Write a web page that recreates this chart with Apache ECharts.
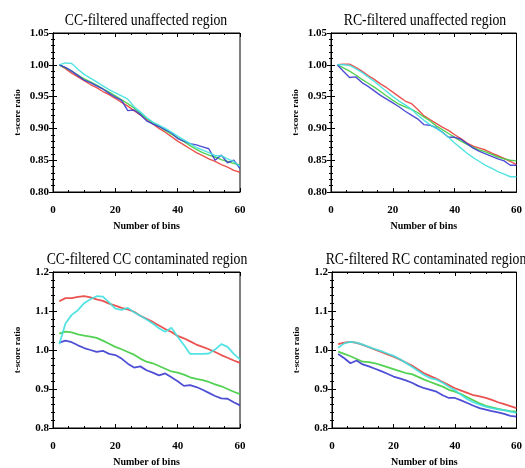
<!DOCTYPE html>
<html><head><meta charset="utf-8">
<script src="https://cdn.jsdelivr.net/npm/echarts@6/dist/echarts.min.js"></script>
<style>html,body{margin:0;padding:0;background:#fff}#c{width:525px;height:468px}</style>
</head><body><div id="c"></div>
<script>
var bins = [2,4,6,8,10,12,14,16,18,20,22,24,26,28,30,32,34,36,38,40,42,44,46,48,50,52,54,56,58,60];
var titles = ["CC-filtered unaffected region","RC-filtered unaffected region","CC-filtered CC contaminated region","RC-filtered RC contaminated region"];
var xTitle = "Number of bins";
var yTitle = "t-score ratio";

// Panel 1: CC-filtered unaffected region
var p1Red   = [1.000,0.994,0.987,0.981,0.975,0.969,0.964,0.958,0.953,0.947,0.941,0.935,0.928,0.921,0.914,0.907,0.900,0.894,0.887,0.880,0.874,0.868,0.862,0.857,0.852,0.848,0.843,0.839,0.834,0.831];
var p1Green = [1.000,0.995,0.990,0.984,0.978,0.973,0.968,0.962,0.957,0.951,0.945,0.939,0.932,0.924,0.916,0.909,0.903,0.897,0.891,0.885,0.879,0.873,0.867,0.862,0.858,0.855,0.851,0.848,0.845,0.842];
var p1Blue  = [1.000,0.996,0.990,0.983,0.976,0.972,0.967,0.962,0.955,0.949,0.944,0.928,0.929,0.922,0.912,0.907,0.903,0.898,0.893,0.884,0.880,0.876,0.874,0.871,0.868,0.850,0.858,0.846,0.850,0.837];
var p1Cyan  = [1.000,1.003,1.002,0.993,0.985,0.979,0.973,0.967,0.961,0.956,0.951,0.946,0.934,0.926,0.917,0.910,0.905,0.900,0.894,0.888,0.882,0.876,0.870,0.866,0.862,0.857,0.857,0.852,0.848,0.840];

// Panel 2: RC-filtered unaffected region
var p2Red   = [1.000,1.001,1.001,0.996,0.990,0.983,0.977,0.970,0.964,0.957,0.950,0.943,0.939,0.930,0.920,0.914,0.908,0.902,0.897,0.890,0.884,0.877,0.872,0.869,0.866,0.861,0.857,0.853,0.848,0.843];
var p2Green = [1.000,0.995,0.990,0.984,0.977,0.971,0.965,0.958,0.951,0.944,0.938,0.934,0.930,0.925,0.918,0.912,0.904,0.898,0.892,0.886,0.880,0.875,0.870,0.866,0.863,0.859,0.855,0.852,0.850,0.849];
var p2Blue  = [1.000,0.990,0.980,0.981,0.972,0.966,0.959,0.952,0.946,0.940,0.934,0.927,0.921,0.915,0.906,0.905,0.901,0.894,0.886,0.886,0.883,0.876,0.869,0.864,0.860,0.856,0.852,0.849,0.842,0.842];
var p2Cyan  = [1.000,1.000,0.999,0.994,0.988,0.981,0.974,0.966,0.958,0.950,0.943,0.937,0.930,0.921,0.913,0.906,0.900,0.894,0.886,0.877,0.869,0.861,0.854,0.848,0.842,0.837,0.832,0.828,0.824,0.824];

// Panel 3: CC-filtered CC contaminated region
var p3Red   = [1.125,1.133,1.133,1.136,1.138,1.135,1.130,1.126,1.119,1.114,1.108,1.104,1.098,1.088,1.080,1.072,1.063,1.054,1.046,1.036,1.030,1.022,1.014,1.008,1.002,0.995,0.987,0.980,0.973,0.967];
var p3Green = [1.042,1.047,1.045,1.040,1.037,1.034,1.031,1.024,1.016,1.008,1.002,0.995,0.988,0.978,0.970,0.966,0.959,0.952,0.945,0.942,0.937,0.930,0.926,0.923,0.918,0.912,0.907,0.900,0.893,0.887];
var p3Blue  = [1.019,1.024,1.020,1.012,1.005,1.000,0.995,0.998,0.990,0.987,0.978,0.965,0.955,0.958,0.948,0.942,0.935,0.940,0.930,0.920,0.908,0.910,0.905,0.898,0.890,0.882,0.876,0.875,0.866,0.858];
var p3Cyan  = [1.015,1.068,1.090,1.102,1.120,1.130,1.138,1.137,1.122,1.106,1.103,1.108,1.097,1.088,1.078,1.068,1.056,1.047,1.057,1.034,1.013,0.990,0.990,0.990,0.991,1.001,1.015,1.008,0.990,0.976];

// Panel 4: RC-filtered RC contaminated region
var p4Red   = [1.015,1.019,1.021,1.018,1.013,1.007,1.001,0.995,0.989,0.983,0.976,0.968,0.960,0.950,0.940,0.933,0.926,0.918,0.910,0.902,0.896,0.890,0.884,0.881,0.877,0.872,0.866,0.861,0.856,0.851];
var p4Green = [0.996,0.990,0.984,0.977,0.970,0.969,0.966,0.961,0.956,0.951,0.946,0.941,0.938,0.931,0.924,0.918,0.912,0.906,0.898,0.893,0.887,0.879,0.871,0.863,0.857,0.853,0.849,0.846,0.843,0.842];
var p4Blue  = [0.990,0.979,0.966,0.973,0.963,0.958,0.952,0.946,0.939,0.932,0.927,0.922,0.916,0.908,0.902,0.898,0.893,0.884,0.877,0.877,0.871,0.864,0.857,0.851,0.847,0.843,0.840,0.836,0.831,0.829];
var p4Cyan  = [1.006,1.017,1.021,1.019,1.014,1.008,1.002,0.997,0.991,0.985,0.977,0.967,0.957,0.946,0.936,0.928,0.924,0.916,0.906,0.897,0.885,0.874,0.866,0.860,0.855,0.851,0.848,0.846,0.842,0.839];

var yRangeTop = [0.80,1.05,0.05];
var yRangeBottom = [0.8,1.2,0.1];

var panels = [
  {series:[p1Red,p1Green,p1Blue,p1Cyan], y:yRangeTop, dec:2},
  {series:[p2Red,p2Green,p2Blue,p2Cyan], y:yRangeTop, dec:2},
  {series:[p3Red,p3Green,p3Blue,p3Cyan], y:yRangeBottom, dec:1},
  {series:[p4Red,p4Green,p4Blue,p4Cyan], y:yRangeBottom, dec:1}
];
var colors = ['#e8403c','#40cc40','#3c3cd0','#40e0e0'];
var grids = [
  {left:53, top:33, width:187, height:159},
  {left:331, top:33, width:188, height:159},
  {left:53, top:272, width:187, height:157},
  {left:332, top:272, width:188, height:157}
];
var titlePos = [[146,21],[425,21],[147,260],[426,260]];
var serif = 'Liberation Serif, Times New Roman, serif';

var option = {animation:false, backgroundColor:'#fff', graphic:[], grid:[], xAxis:[], yAxis:[], series:[]};
panels.forEach(function(p,i){
  var g = grids[i];
  option.grid.push({left:g.left, top:g.top, width:g.width, height:g.height, show:true, borderColor:'#000', borderWidth:1, backgroundColor:'transparent'});
  option.graphic.push({type:'text', x:titlePos[i][0], y:titlePos[i][1], scaleX:0.86, scaleY:1,
    style:{text:titles[i], fontFamily:serif, fontSize:16, fontWeight:'normal', fill:'#000', align:'center', verticalAlign:'middle'}});
  var lineStyle = {color:'#000', width:1};
  var tick = {show:true, inside:true, length:4, lineStyle:{color:'#000'}};
  var minor = {show:true, splitNumber:4, length:2, lineStyle:{color:'#000'}};
  option.xAxis.push({gridIndex:i, type:'value', min:0, max:60, interval:20, position:'bottom',
    name:xTitle, nameLocation:'middle', nameGap:29,
    nameTextStyle:{fontFamily:serif, fontSize:10, fontWeight:'bold', color:'#000'},
    axisLine:{show:true, lineStyle:lineStyle}, axisTick:tick, minorTick:minor, splitLine:{show:false},
    axisLabel:{fontFamily:serif, fontSize:11, fontWeight:'bold', color:'#000', margin:13}});
  option.xAxis.push({gridIndex:i, type:'value', min:0, max:60, interval:20, position:'top',
    axisLine:{show:true, lineStyle:lineStyle}, axisTick:tick, minorTick:minor, splitLine:{show:false},
    axisLabel:{show:false}});
  var ymin = p.y[0], ymax = p.y[1], yint = p.y[2], dec = p.dec;
  var yminor = {show:true, splitNumber:5, length:2, lineStyle:{color:'#000'}};
  option.yAxis.push({gridIndex:i, type:'value', min:ymin, max:ymax, interval:yint, position:'left',
    name:yTitle, nameLocation:'middle', nameGap:31,
    nameTextStyle:{fontFamily:serif, fontSize:9, fontWeight:'bold', color:'#000'},
    axisLine:{show:true, lineStyle:lineStyle}, axisTick:tick, minorTick:yminor, splitLine:{show:false},
    axisLabel:{fontFamily:serif, fontSize:11, fontWeight:'bold', color:'#000', margin:4,
      formatter:function(v){return v.toFixed(dec);}}});
  option.yAxis.push({gridIndex:i, type:'value', min:ymin, max:ymax, interval:yint, position:'right',
    axisLine:{show:true, lineStyle:lineStyle}, axisTick:tick, minorTick:yminor, splitLine:{show:false},
    axisLabel:{show:false}});
  p.series.forEach(function(arr,k){
    option.series.push({type:'line', xAxisIndex:2*i, yAxisIndex:2*i, showSymbol:false, symbol:'none',
      data:bins.map(function(b,j){return [b, arr[j]];}),
      lineStyle:{color:colors[k], width:(i<2?1.4:1.8), opacity:0.9}, z:2+k});
  });
});
var chart = echarts.init(document.getElementById('c'), null, {renderer:'canvas'});
chart.setOption(option);
</script></body></html>
